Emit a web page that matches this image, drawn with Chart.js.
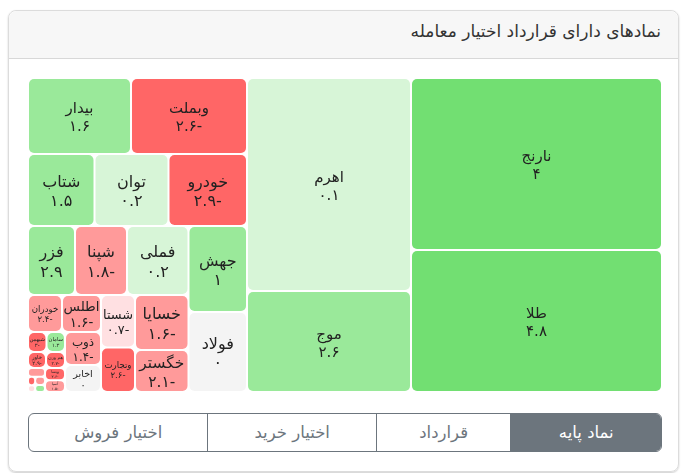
<!DOCTYPE html>
<html lang="fa">
<head>
<meta charset="utf-8">
<title>نمادهای دارای قرارداد اختیار معامله</title>
<script src="https://cdn.jsdelivr.net/npm/chart.js@4/dist/chart.umd.min.js"></script>
<style>
    * { box-sizing: border-box; }
    html, body { margin: 0; background: #fff; font-family: "DejaVu Sans", sans-serif; }
    .card {
        position: absolute; left: 8px; top: 10px; width: 671px; height: 462px;
        border: 1px solid #dcdcdc; border-radius: 8px; box-shadow: 0 1px 2px rgba(0,0,0,.2);
    }
    .card-header {
        height: 48px; background: #f7f7f7; border-bottom: 1px solid #d8d8d8; border-radius: 8px 8px 0 0;
        direction: rtl; padding: 10px 17px 0 0; font-size: 17px; color: #333;
    }
    .chart-wrap { position: absolute; left: 18px; top: 66px; width: 636px; height: 316px; }
    .btn-group {
        position: absolute; left: 19px; top: 402px; width: 634px; height: 39px;
        display: flex; border: 1px solid #6c757d; border-radius: 6px; overflow: hidden; direction: rtl;
    }
    .btn-group div {
        display: flex; align-items: center; justify-content: center;
        font-size: 16.5px; color: #6c757d; border-left: 1px solid #6c757d;
    }
    .btn-group div:last-child { border-left: 0; }
    .btn-group .active { background: #6c757d; color: #fff; }
</style>
</head>
<body>
<div class="card">
    <div class="card-header">نمادهای دارای قرارداد اختیار معامله</div>
    <div class="chart-wrap"><canvas id="treemap"></canvas></div>
    <div class="btn-group">
        <div class="active" style="width:151px">نماد پایه</div>
        <div style="width:135px">قرارداد</div>
        <div style="width:169px">اختیار خرید</div>
        <div style="width:179px">اختیار فروش</div>
    </div>
</div>
<script>
const symbols = ['نارنج', 'طلا', 'اهرم', 'موج', 'وبملت', 'بیدار', 'خودرو', 'توان', 'شتاب',
    'جهش', 'فولاد', 'فملی', 'شپنا', 'فزر', 'خسایا', 'خگستر', 'شستا', 'وتجارت',
    'اطلس', 'خودران', 'ذوب', 'اخابر', 'سامان', 'شیهمن', 'هم وزن', 'خاور',
    'وبسا', 'آسیا', 'شبندر', 'فارس', 'حکشتی', 'کگل', 'ثامان'];
const contracts = [43172, 35642, 34932, 16564, 8816, 7828, 5652, 5328, 4788,
    5031, 4680, 4243, 3588, 3243, 2942, 2247, 1785, 1513,
    1443, 1258, 1188, 972, 370, 370, 304, 288,
    245, 235, 150, 80, 70, 60, 49];
const changes = [4, 4.8, 0.1, 2.6, -2.6, 1.6, -2.9, 0.2, 1.5,
    1, 0, 0.2, -1.8, 2.9, -1.6, -2.1, -0.7, -2.6,
    -1.6, -2.4, -1.4, 0, 1.3, -3, -2.7, -2.9,
    -2.6, -1.5, -1.5, -1.2, 1.2, -2.8, -0.4];

const plotWidth = 634;
const plotHeight = 314;
const cellGap = 2;

function colorFor(v) {
    if (v >= 3) return '#72df72';
    if (v >= 1) return '#9ae99a';
    if (v > 0) return '#d7f5d7';
    if (v === 0) return '#f4f4f4';
    if (v > -1) return '#ffe0e2';
    if (v > -2.5) return '#ff9a9a';
    return '#ff6666';
}

function persianNumber(v) {
    return String(v).replace(/\d/g, d => '۰۱۲۳۴۵۶۷۸۹'[d]);
}

// squarified treemap, areas come straight from the contract counts
function squarify(weights, width, height) {
    const total = weights.reduce((a, b) => a + b, 0);
    const areas = weights.map(w => w * width * height / total);
    const rects = [];
    let x = 0, y = 0, w = width, h = height;
    let i = 0;

    function worst(row, side) {
        const sum = row.reduce((a, b) => a + b, 0);
        const max = Math.max(...row), min = Math.min(...row);
        return Math.max(side * side * max / (sum * sum), sum * sum / (side * side * min));
    }

    while (i < areas.length) {
        const side = Math.min(w, h);
        let row = [areas[i]];
        let j = i + 1;
        while (j < areas.length && worst(row.concat(areas[j]), side) <= worst(row, side)) {
            row.push(areas[j]);
            j++;
        }
        const sum = row.reduce((a, b) => a + b, 0);
        const depth = sum / side;
        let offset = 0;
        row.forEach(area => {
            const len = area / depth;
            if (w >= h) {
                rects.push({ x0: x, x1: x + depth, y0: y + offset, y1: y + offset + len });
            } else {
                rects.push({ x0: x + offset, x1: x + offset + len, y0: y, y1: y + depth });
            }
            offset += len;
        });
        if (w >= h) { x += depth; w -= depth; } else { y += depth; h -= depth; }
        i = j;
    }
    return rects;
}

function labelSize(name, w, h) {
    if (w * h > 6500) return 15;
    return Math.min(w / (name.length * 0.62), h / 2.6, 16);
}

const treemapCells = {
    id: 'treemapCells',
    beforeDatasetsDraw(chart) {
        const { ctx, scales: { x, y } } = chart;
        const rects = squarify(contracts, plotWidth, plotHeight);
        rects.forEach((r, i) => {
            const left = x.getPixelForValue(r.x1) + cellGap / 2;
            const right = x.getPixelForValue(r.x0) - cellGap / 2;
            const top = y.getPixelForValue(r.y0) + cellGap / 2;
            const bottom = y.getPixelForValue(r.y1) - cellGap / 2;
            const w = right - left, h = bottom - top;
            ctx.save();
            ctx.beginPath();
            ctx.roundRect(left, top, w, h, Math.min(5, w / 2.5, h / 2.5));
            ctx.fillStyle = colorFor(changes[i]);
            ctx.fill();

            const size = labelSize(symbols[i], w, h);
            if (size >= 3) {
                ctx.fillStyle = '#222';
                ctx.direction = 'rtl';
                ctx.textAlign = 'center';
                ctx.textBaseline = 'middle';
                ctx.font = size + 'px "DejaVu Sans"';
                const cx = (left + right) / 2, cy = (top + bottom) / 2;
                ctx.fillText(symbols[i], cx, cy - size * 0.45);
                ctx.fillText(persianNumber(changes[i]), cx, cy + size * 0.75);
            }
            ctx.restore();
        });
    }
};

window.onload = function() {
    new Chart(document.getElementById('treemap'), {
        type: 'scatter',
        data: { datasets: [{ data: [] }] },
        options: {
            responsive: true,
            maintainAspectRatio: false,
            animation: false,
            layout: { padding: 1 },
            plugins: { legend: { display: false }, tooltip: { enabled: false } },
            scales: {
                x: { display: false, reverse: true, min: 0, max: plotWidth },
                y: { display: false, reverse: true, min: 0, max: plotHeight }
            }
        },
        plugins: [treemapCells]
    });
};
</script>
</body>
</html>
